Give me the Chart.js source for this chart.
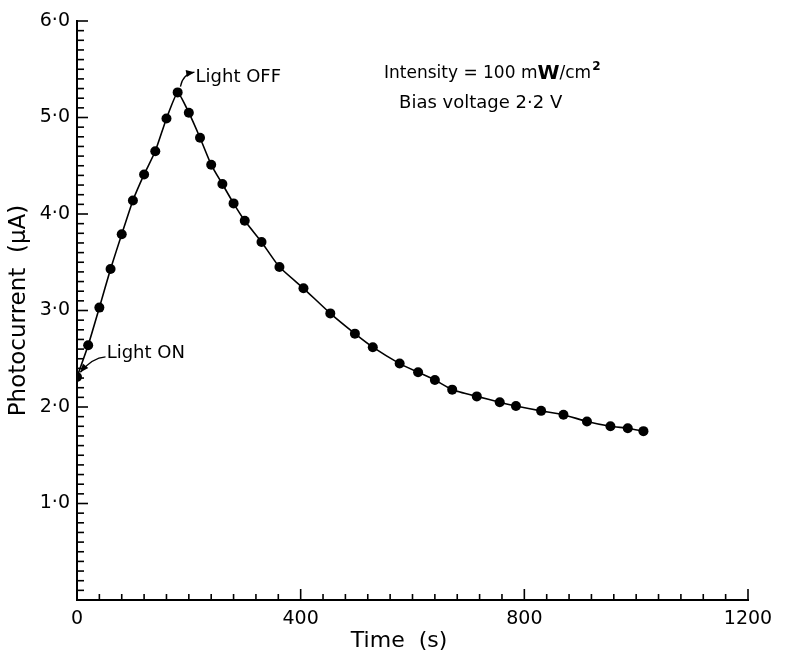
<!DOCTYPE html>
<html lang="en">
<head>
    <meta charset="UTF-8">
    <title>Photocurrent vs Time</title>
    <script src="https://cdn.jsdelivr.net/npm/chart.js"></script>
    <style>
        body {
            margin: 0;
            background: #ffffff;
        }
        #photoChart {
            display: block;
        }
    </style>
</head>
<body>
    <canvas id="photoChart" width="793" height="654"></canvas>

    <script>
        // Time (s) and photocurrent (uA)
        const times = [0, 20, 40, 60, 80, 100, 120, 140, 160, 180,
            200, 220, 240, 260, 280, 300, 330, 362, 405, 453,
            497, 529, 577, 610, 640, 671, 715, 756, 785, 830,
            870, 912, 954, 985, 1013];
        const current = [2.31, 2.64, 3.03, 3.43, 3.79, 4.14, 4.41, 4.65, 4.99, 5.26,
            5.05, 4.79, 4.51, 4.31, 4.11, 3.93, 3.71, 3.45, 3.23, 2.97,
            2.76, 2.62, 2.45, 2.36, 2.28, 2.18, 2.11, 2.05, 2.01, 1.96,
            1.92, 1.85, 1.80, 1.78, 1.75];

        const xMajor = [0, 400, 800, 1200];
        const yMajor = [1, 2, 3, 4, 5, 6];

        const FONT = "'DejaVu Sans', sans-serif";

        function isMajor(list, v) {
            return list.some(m => Math.abs(m - v) < 1e-6);
        }

        // tick marks point inwards, so draw them by hand from the scales
        const insideTicks = {
            id: 'insideTicks',
            afterDraw(chart) {
                const ctx = chart.ctx;
                const x = chart.scales.x;
                const y = chart.scales.y;
                ctx.save();
                ctx.strokeStyle = '#000';
                ctx.lineWidth = 1.6;
                x.ticks.forEach(t => {
                    const px = x.getPixelForValue(t.value);
                    const len = isMajor(xMajor, t.value) ? 11 : 6;
                    ctx.beginPath();
                    ctx.moveTo(px, y.bottom);
                    ctx.lineTo(px, y.bottom - len);
                    ctx.stroke();
                });
                y.ticks.forEach(t => {
                    const py = y.getPixelForValue(t.value);
                    const len = isMajor(yMajor, t.value) ? 11 : 7;
                    ctx.beginPath();
                    ctx.moveTo(x.left, py);
                    ctx.lineTo(x.left + len, py);
                    ctx.stroke();
                });
                ctx.restore();
            }
        };

        function arrow(ctx, x0, y0, cx, cy, x1, y1) {
            ctx.beginPath();
            ctx.moveTo(x0, y0);
            ctx.quadraticCurveTo(cx, cy, x1, y1);
            ctx.stroke();
            const a = Math.atan2(y1 - cy, x1 - cx);
            ctx.beginPath();
            ctx.moveTo(x1, y1);
            ctx.lineTo(x1 - 9 * Math.cos(a - 0.4), y1 - 9 * Math.sin(a - 0.4));
            ctx.lineTo(x1 - 9 * Math.cos(a + 0.4), y1 - 9 * Math.sin(a + 0.4));
            ctx.closePath();
            ctx.fill();
        }

        const notes = {
            id: 'notes',
            afterDraw(chart) {
                const ctx = chart.ctx;
                const x = chart.scales.x;
                const y = chart.scales.y;
                const X = v => x.getPixelForValue(v);
                const Y = v => y.getPixelForValue(v);
                ctx.save();
                ctx.fillStyle = '#000';
                ctx.strokeStyle = '#000';
                ctx.lineWidth = 1.3;
                ctx.textBaseline = 'middle';
                ctx.textAlign = 'left';

                ctx.font = '18px ' + FONT;
                ctx.fillText('Light ON', X(53), Y(2.56));
                arrow(ctx, X(51), Y(2.52), X(27), Y(2.51), X(6), Y(2.36));

                ctx.fillText('Light OFF', X(212), Y(5.42));
                arrow(ctx, X(185), Y(5.32), X(189), Y(5.45), X(210), Y(5.47));

                // Intensity = 100 mW/cm2
                let px = X(549);
                const py = Y(5.45);
                ctx.font = '17px ' + FONT;
                const part1 = 'Intensity = 100 m';
                ctx.fillText(part1, px, py);
                px += ctx.measureText(part1).width;
                ctx.font = 'bold 20px ' + FONT;
                ctx.fillText('W', px, py);
                px += ctx.measureText('W').width;
                ctx.font = '17px ' + FONT;
                ctx.fillText('/cm', px, py);
                px += ctx.measureText('/cm').width;
                ctx.font = 'bold 12px ' + FONT;
                ctx.fillText('2', px + 1, py - 7);

                ctx.font = '18px ' + FONT;
                ctx.fillText('Bias voltage 2\u00b72 V', X(576), Y(5.15));

                // axis title for time, centred where the original puts it
                ctx.font = '22px ' + FONT;
                ctx.textAlign = 'center';
                ctx.fillText('Time  (s)', X(576), 641);
                ctx.restore();
            }
        };

        const points = times.map((t, i) => ({ x: t, y: current[i] }));

        new Chart(document.getElementById('photoChart').getContext('2d'), {
            type: 'line',
            data: {
                datasets: [{
                    data: points,
                    borderColor: '#000',
                    borderWidth: 1.6,
                    backgroundColor: '#000',
                    pointBackgroundColor: '#000',
                    pointBorderColor: '#000',
                    pointRadius: 5,
                    pointBorderWidth: 0,
                    tension: 0.15,
                    fill: false
                }]
            },
            options: {
                responsive: false,
                animation: false,
                layout: { padding: { top: 21, right: 45, bottom: 0, left: 0 } },
                plugins: {
                    legend: { display: false },
                    tooltip: { enabled: false }
                },
                scales: {
                    x: {
                        type: 'linear',
                        min: 0,
                        max: 1200,
                        afterFit: s => { s.height = 54; },
                        border: { display: true, color: '#000', width: 2 },
                        grid: { display: true, drawOnChartArea: false, drawTicks: false, color: 'rgba(0,0,0,0)' },
                        ticks: {
                            stepSize: 40,
                            autoSkip: false,
                            maxRotation: 0,
                            padding: 8,
                            color: '#000',
                            font: { family: FONT, size: 19 },
                            callback: v => isMajor(xMajor, v) ? String(Math.round(v)) : ''
                        }
                    },
                    y: {
                        min: 0,
                        max: 6,
                        afterFit: s => { s.width = 77; },
                        border: { display: true, color: '#000', width: 2 },
                        grid: { display: true, drawOnChartArea: false, drawTicks: false, color: 'rgba(0,0,0,0)' },
                        ticks: {
                            stepSize: 0.1,
                            autoSkip: false,
                            padding: 7,
                            color: '#000',
                            font: { family: FONT, size: 19 },
                            callback: v => (isMajor(yMajor, v) ? v.toFixed(1).replace('.', '\u00b7') : '')
                        },
                        title: {
                            display: true,
                            text: 'Photocurrent  (\u03bcA)',
                            color: '#000',
                            padding: { top: 5, bottom: 0 },
                            font: { family: FONT, size: 23 }
                        }
                    }
                }
            },
            plugins: [insideTicks, notes]
        });
    </script>
</body>
</html>
